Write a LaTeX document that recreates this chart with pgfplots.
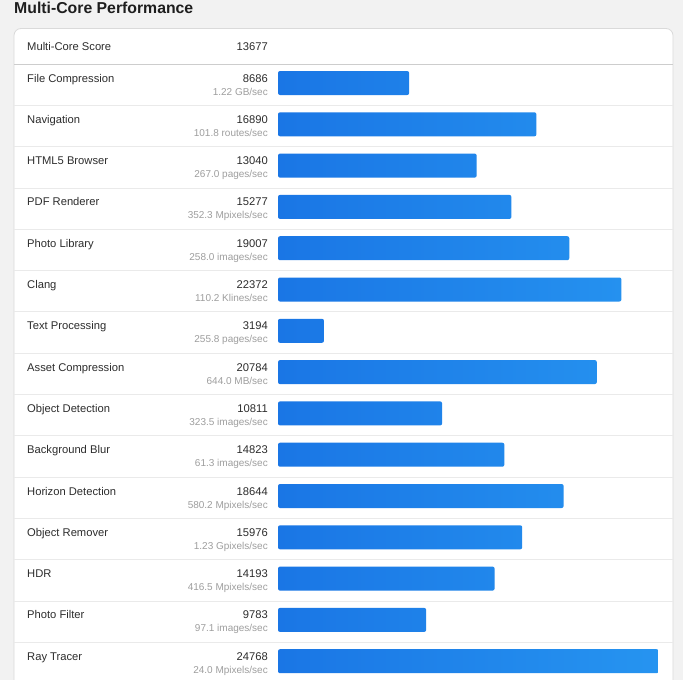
\documentclass[border=0pt]{standalone}
\usepackage{pgfplots}
\pgfplotsset{compat=1.18}
\usepackage{pgfplotstable}
\usepackage{fontspec}
\setmainfont{Liberation Sans}
\definecolor{bgc}{RGB}{242,242,242}
\definecolor{cardline}{RGB}{218,218,218}
\definecolor{sepdark}{RGB}{205,205,205}
\definecolor{seplight}{RGB}{234,234,234}
\definecolor{barL}{RGB}{26,118,229}
\definecolor{barR}{RGB}{38,148,240}
\definecolor{txt}{RGB}{45,45,45}
\definecolor{subtxt}{RGB}{158,158,158}
\definecolor{ttl}{RGB}{30,30,30}

\pgfplotstableread{
y v
83.0 8686
124.3 16890
165.6 13040
206.9 15277
248.2 19007
289.5 22372
330.8 3194
372.1 20784
413.4 10811
454.7 14823
496.0 18644
537.3 15976
578.6 14193
619.9 9783
661.2 24768
}\benchdata

\begin{document}
\begin{tikzpicture}
\useasboundingbox (0,0) rectangle (683pt,-680pt);
\clip (0,0) rectangle (683pt,-680pt);
\begin{scope}[x=1pt,y=-1pt]
  \fill[bgc] (0,0) rectangle (683,680);
  \filldraw[fill=white,draw=cardline,line width=0.8pt,rounded corners=7pt] (14,28.5) rectangle (673,720);
  \draw[sepdark,line width=0.8pt] (14,64) -- (673,64);
  \foreach \i in {1,...,14}{
    \pgfmathsetmacro{\T}{64+41.3*\i}
    \draw[seplight,line width=0.8pt] (14,\T) -- (673,\T);
  }
  \node[anchor=base west,inner sep=0pt,text=ttl,font=\fontsize{15.8}{18}\selectfont\bfseries] at (14,13.3) {Multi-Core Performance};
  \node[anchor=base west,inner sep=0pt,text=txt,font=\fontsize{11.2}{13}\selectfont] at (27,50) {Multi-Core Score};
  \node[anchor=base east,inner sep=0pt,text=txt,font=\fontsize{11.2}{13}\selectfont] at (268,50) {13677};
  \foreach \n/\s/\u [count=\i from 0] in {
    {File Compression}/{8686}/{1.22 GB/sec},
    {Navigation}/{16890}/{101.8 routes/sec},
    {HTML5 Browser}/{13040}/{267.0 pages/sec},
    {PDF Renderer}/{15277}/{352.3 Mpixels/sec},
    {Photo Library}/{19007}/{258.0 images/sec},
    {Clang}/{22372}/{110.2 Klines/sec},
    {Text Processing}/{3194}/{255.8 pages/sec},
    {Asset Compression}/{20784}/{644.0 MB/sec},
    {Object Detection}/{10811}/{323.5 images/sec},
    {Background Blur}/{14823}/{61.3 images/sec},
    {Horizon Detection}/{18644}/{580.2 Mpixels/sec},
    {Object Remover}/{15976}/{1.23 Gpixels/sec},
    {HDR}/{14193}/{416.5 Mpixels/sec},
    {Photo Filter}/{9783}/{97.1 images/sec},
    {Ray Tracer}/{24768}/{24.0 Mpixels/sec}}{
    \pgfmathsetmacro{\T}{64+41.3*\i}
    \node[anchor=base west,inner sep=0pt,text=txt,font=\fontsize{11.2}{13}\selectfont] at (27,\T+18) {\n};
    \node[anchor=base east,inner sep=0pt,text=txt,font=\fontsize{11.2}{13}\selectfont] at (268,\T+18) {\s};
    \node[anchor=base east,inner sep=0pt,text=subtxt,font=\fontsize{10}{12}\selectfont] at (268,\T+31) {\u};
  }
\end{scope}
\begin{axis}[
  at={(278pt,-680pt)}, anchor=south west,
  scale only axis, width=395pt, height=680pt,
  xbar, hide axis,
  xmin=230, xmax=25696,
  ymin=0, ymax=680, y dir=reverse,
]
\addplot[xbar, bar width=24pt, draw=none, left color=barL, right color=barR, rounded corners=2pt] table[x=v,y=y] {\benchdata};
\end{axis}
\end{tikzpicture}
\end{document}
